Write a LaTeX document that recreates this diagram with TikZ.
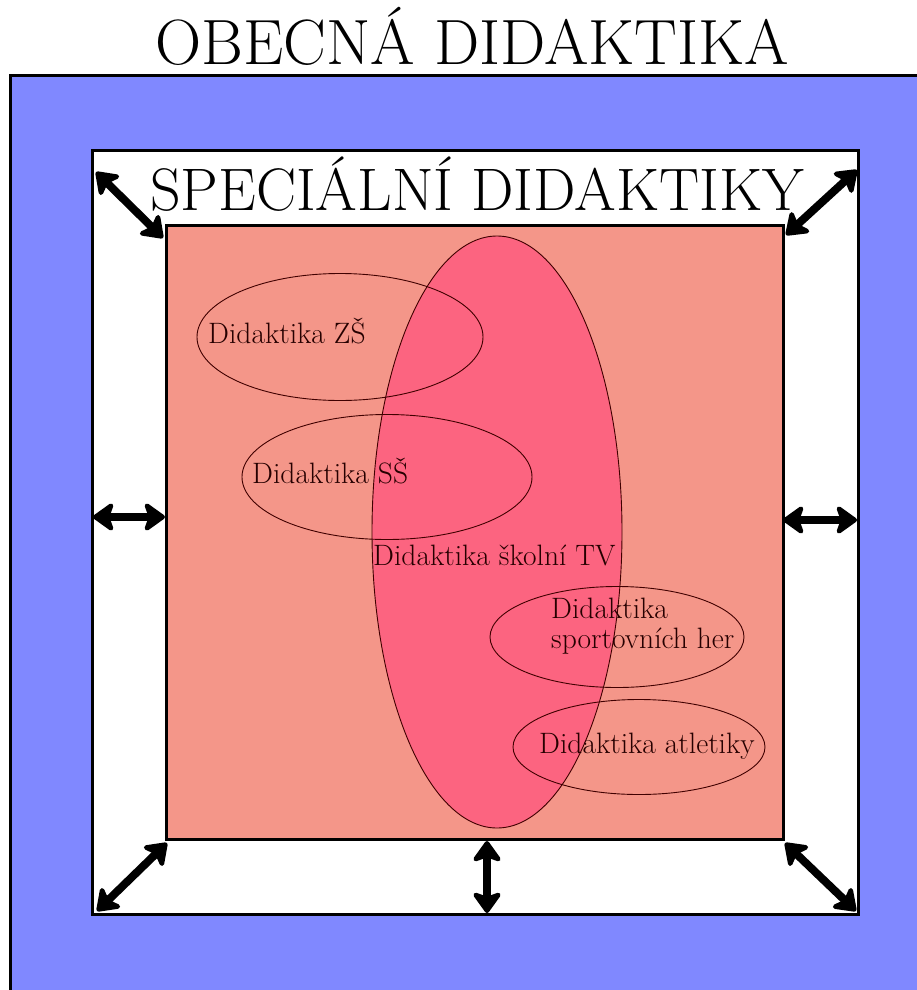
\documentclass[tikz,border=0pt]{standalone}
\usetikzlibrary{shapes.geometric,arrows.meta}
\definecolor{bluebg}{RGB}{128,136,255}
\definecolor{salmonbg}{RGB}{244,150,137}
\definecolor{pinkell}{RGB}{252,100,128}
\begin{document}
\begin{tikzpicture}[x=1pt,y=-1pt,
  box/.style={draw=black,line width=3pt},
  ring/.style={draw=black!75!red,line width=0.9pt,ellipse,inner sep=0pt},
  lbl/.style={anchor=base west,inner sep=0pt,text=black!85!red,font=\fontsize{29.5}{32}\selectfont},
  dbl/.style={line width=8pt,{Stealth[length=24pt,width=34pt,inset=6pt,round]}-{Stealth[length=24pt,width=34pt,inset=6pt,round]}}]
\clip (0,0) rectangle (917,990);
\fill[white] (0,0) rectangle (917,990);
\node[anchor=base,inner sep=0pt,font=\fontsize{64}{66}\selectfont] (title) at (472,65) {OBECNÁ DIDAKTIKA};
\filldraw[fill=bluebg,box] (10,75) rectangle (935,1010);
\filldraw[fill=white,box] (92,150) rectangle (858,914);
\node[anchor=base west,inner sep=0pt,font=\fontsize{60}{62}\selectfont] (spec) at (150,210) {SPECIÁLNÍ DIDAKTIKY};
\filldraw[fill=salmonbg,box] (166,225) rectangle (783,839);
\node[ellipse,draw=black!75!red,line width=0.9pt,fill=pinkell,inner sep=0pt,minimum width=250pt,minimum height=592pt] (tv) at (497,532) {};
\node[ring,minimum width=286pt,minimum height=127pt] (zs) at (340,337) {};
\node[ring,minimum width=290pt,minimum height=125pt] (ss) at (387,477) {};
\node[ring,minimum width=254pt,minimum height=101pt] (sh) at (617,637) {};
\node[ring,minimum width=252pt,minimum height=95pt] (at) at (639,747) {};
\node[lbl] (tzs) at (208,343) {Didaktika ZŠ};
\node[lbl] (tss) at (252,483) {Didaktika SŠ};
\node[lbl] (ttv) at (373,565) {Didaktika školní TV};
\node[lbl] (tsh1) at (551,618) {Didaktika};
\node[lbl] (tsh2) at (551,648) {sportovních her};
\node[lbl] (tat) at (539,753) {Didaktika atletiky};
\coordinate (a1) at (96,172); \coordinate (b1) at (163,238);
\coordinate (a2) at (857,170); \coordinate (b2) at (786,235);
\coordinate (a3) at (93,517); \coordinate (b3) at (165,517);
\coordinate (a4) at (783,520); \coordinate (b4) at (857,520);
\coordinate (a5) at (97,911); \coordinate (b5) at (167,843);
\coordinate (a6) at (487,841); \coordinate (b6) at (487,913);
\coordinate (a7) at (785,843); \coordinate (b7) at (856,911);
\foreach \i in {1,...,7} {\draw[dbl] (a\i) -- (b\i);}
\end{tikzpicture}
\end{document}
